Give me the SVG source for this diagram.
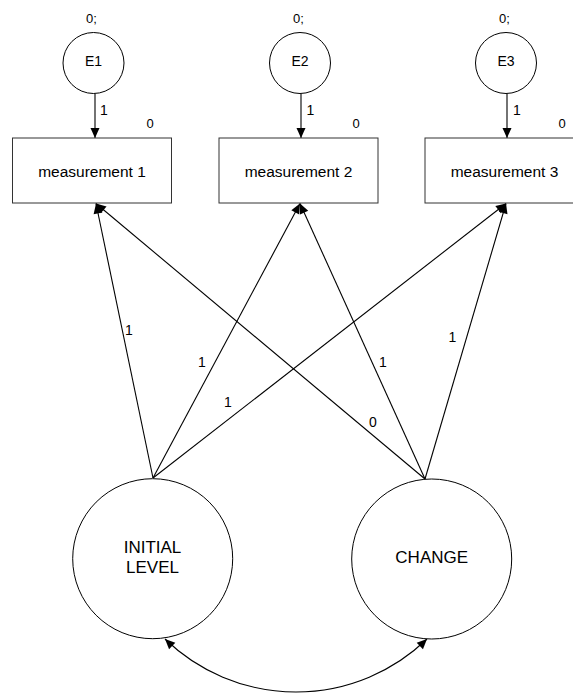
<svg xmlns="http://www.w3.org/2000/svg" width="573" height="693" viewBox="0 0 573 693">
<style>
text{font-family:"Liberation Sans",Arial,sans-serif;fill:#000}
.lbl{font-size:14px}
.sm{font-size:13px}
.box{fill:#fff;stroke:#333;stroke-width:1}
.circ{fill:#fff;stroke:#000;stroke-width:1}
.big{font-size:17px}
.mtxt{font-size:15.5px}
.con{stroke:#000;stroke-width:1.1;fill:none}
</style>
<defs>
<marker id="ah" markerUnits="userSpaceOnUse" markerWidth="11" markerHeight="10" refX="10" refY="4.5" orient="auto-start-reverse" overflow="visible">
<path d="M0,0 L10,4.5 L0,9 z" fill="#000"/>
</marker>
</defs>
<g id="connectors">
<line class="con" x1="95" y1="93.5" x2="95" y2="138" marker-end="url(#ah)"/>
<line class="con" x1="301" y1="93.5" x2="301" y2="138" marker-end="url(#ah)"/>
<line class="con" x1="507" y1="93.5" x2="507" y2="138" marker-end="url(#ah)"/>
<line class="con" x1="153" y1="478" x2="96" y2="203.5" marker-end="url(#ah)"/>
<line class="con" x1="153" y1="478" x2="300" y2="203.5" marker-end="url(#ah)"/>
<line class="con" x1="153" y1="478" x2="506" y2="203.5" marker-end="url(#ah)"/>
<line class="con" x1="425" y1="479" x2="96" y2="203.5" marker-end="url(#ah)"/>
<line class="con" x1="425" y1="479" x2="300" y2="203.5" marker-end="url(#ah)"/>
<line class="con" x1="425" y1="479" x2="506" y2="203.5" marker-end="url(#ah)"/>
<path class="con" d="M165,639 A188.4,188.4 0 0 0 427,639" marker-start="url(#ah)" marker-end="url(#ah)"/>
<text class="lbl" x="100" y="115">1</text>
<text class="lbl" x="306.5" y="115">1</text>
<text class="lbl" x="513" y="115">1</text>
<text class="lbl" x="129" y="335" text-anchor="middle">1</text>
<text class="lbl" x="202" y="366.5" text-anchor="middle">1</text>
<text class="lbl" x="228" y="406.5" text-anchor="middle">1</text>
<text class="lbl" x="383" y="366.5" text-anchor="middle">1</text>
<text class="lbl" x="373" y="427" text-anchor="middle">0</text>
<text class="lbl" x="452.5" y="342" text-anchor="middle">1</text>
</g>
<g id="E1">
<text class="sm" x="91.5" y="22.7" text-anchor="middle">0;</text>
<circle class="circ" cx="93.5" cy="63" r="30.5"/>
<text class="lbl" x="93.5" y="66" text-anchor="middle">E1</text>
</g>
<g id="E2">
<text class="sm" x="298.5" y="22.7" text-anchor="middle">0;</text>
<circle class="circ" cx="300" cy="63" r="30.5"/>
<text class="lbl" x="300" y="66" text-anchor="middle">E2</text>
</g>
<g id="E3">
<text class="sm" x="504.5" y="22.7" text-anchor="middle">0;</text>
<circle class="circ" cx="506" cy="63" r="30.5"/>
<text class="lbl" x="506" y="66" text-anchor="middle">E3</text>
</g>
<g id="measurement1">
<rect class="box" x="12.5" y="138" width="159" height="65"/>
<text class="mtxt" x="92" y="177" text-anchor="middle">measurement 1</text>
<text class="sm" x="150" y="127.5" text-anchor="middle">0</text>
</g>
<g id="measurement2">
<rect class="box" x="219" y="138" width="159" height="65"/>
<text class="mtxt" x="298.5" y="177" text-anchor="middle">measurement 2</text>
<text class="sm" x="356" y="127.5" text-anchor="middle">0</text>
</g>
<g id="measurement3">
<rect class="box" x="425" y="138" width="159" height="65"/>
<text class="mtxt" x="504.5" y="177" text-anchor="middle">measurement 3</text>
<text class="sm" x="562" y="127.5" text-anchor="middle">0</text>
</g>
<g id="initial_level">
<circle class="circ" cx="152.7" cy="558.7" r="80"/>
<text class="big" x="152.5" y="553" text-anchor="middle">INITIAL</text>
<text class="big" x="152.5" y="573" text-anchor="middle">LEVEL</text>
</g>
<g id="change">
<circle class="circ" cx="431.7" cy="559" r="80"/>
<text class="big" x="431.7" y="563" text-anchor="middle">CHANGE</text>
</g>
</svg>
